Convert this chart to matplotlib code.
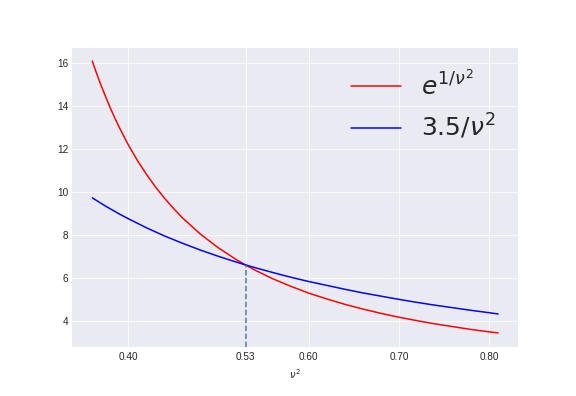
import matplotlib
matplotlib.use("Agg")
import matplotlib.pyplot as plt

# nu^2 sample points and the two curves
nu2 = [0.36, 0.365, 0.37, 0.375, 0.38, 0.385, 0.39, 0.40, 0.41, 0.42, 0.43,
       0.44, 0.45, 0.46, 0.48, 0.50, 0.52, 0.53, 0.54, 0.56, 0.58, 0.60, 0.62,
       0.64, 0.66, 0.68, 0.70, 0.72, 0.74, 0.76, 0.78, 0.80, 0.81]
exp_curve = [16.08, 15.48, 14.92, 14.40, 13.90, 13.43, 12.99, 12.18, 11.46,
             10.82, 10.23, 9.71, 9.23, 8.79, 8.03, 7.39, 6.84, 6.60, 6.37, 5.96,
             5.61, 5.29, 5.02, 4.77, 4.55, 4.35, 4.17, 4.01, 3.86, 3.73, 3.60,
             3.49, 3.44]
inv_curve = [9.72, 9.59, 9.46, 9.33, 9.21, 9.09, 8.97, 8.75, 8.54, 8.33, 8.14,
             7.95, 7.78, 7.61, 7.29, 7.00, 6.73, 6.60, 6.48, 6.25, 6.03, 5.83,
             5.65, 5.47, 5.30, 5.15, 5.00, 4.86, 4.73, 4.61, 4.49, 4.38, 4.32]
cross_x = 0.53
cross_y = 6.60
xticks = [0.40, 0.53, 0.60, 0.70, 0.80]

plt.style.use("seaborn-v0_8-darkgrid")
fig, ax = plt.subplots(figsize=(8, 5.5), dpi=72)

ax.plot(nu2, exp_curve, color="red", lw=1.5, label=r"$e^{1/\nu^2}$")
ax.plot(nu2, inv_curve, color="blue", lw=1.5, label=r"$3.5/\nu^2$")

ylo, yhi = ax.get_ylim()
ax.plot([cross_x, cross_x], [ylo, cross_y], "--", color="#4c72b0", lw=1.5)
ax.set_ylim(ylo, yhi)

ax.set_xticks(xticks)
ax.set_xticklabels([f"{t:.2f}" for t in xticks])
ax.tick_params(axis="x", pad=6)
ax.set_xlabel(r"$\nu^2$", labelpad=5)
ax.legend(loc="upper right", fontsize=25, handlelength=2.0)

fig.subplots_adjust(bottom=0.125)
fig.savefig("out.png")
